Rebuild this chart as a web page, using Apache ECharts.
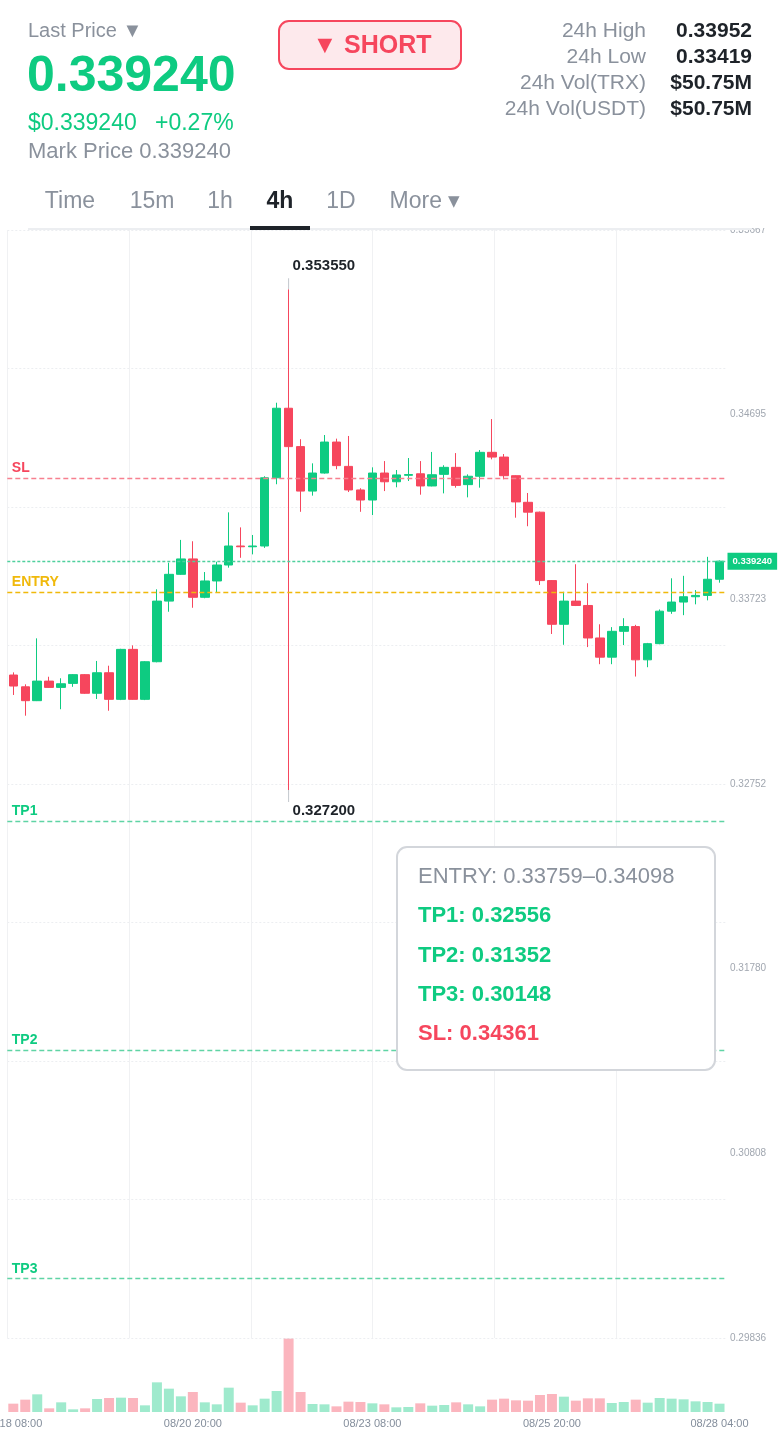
<!DOCTYPE html>
<html>
<head>
<meta charset="utf-8">
<script src="https://cdn.jsdelivr.net/npm/echarts@6/dist/echarts.min.js"></script>
<style>
html,body{margin:0;padding:0;background:#ffffff;}
#chart{width:780px;height:1430px;}
</style>
</head>
<body>
<div id="chart"></div>
<script>
// ---------- DATA ----------
const categories = [
  '08/18 08:00','08/18 12:00','08/18 16:00','08/18 20:00',
  '08/19 00:00','08/19 04:00','08/19 08:00','08/19 12:00','08/19 16:00','08/19 20:00',
  '08/20 00:00','08/20 04:00','08/20 08:00','08/20 12:00','08/20 16:00','08/20 20:00',
  '08/21 00:00','08/21 04:00','08/21 08:00','08/21 12:00','08/21 16:00','08/21 20:00',
  '08/22 00:00','08/22 04:00','08/22 08:00','08/22 12:00','08/22 16:00','08/22 20:00',
  '08/23 00:00','08/23 04:00','08/23 08:00','08/23 12:00','08/23 16:00','08/23 20:00',
  '08/24 00:00','08/24 04:00','08/24 08:00','08/24 12:00','08/24 16:00','08/24 20:00',
  '08/25 00:00','08/25 04:00','08/25 08:00','08/25 12:00','08/25 16:00','08/25 20:00',
  '08/26 00:00','08/26 04:00','08/26 08:00','08/26 12:00','08/26 16:00','08/26 20:00',
  '08/27 00:00','08/27 04:00','08/27 08:00','08/27 12:00','08/27 16:00','08/27 20:00',
  '08/28 00:00','08/28 04:00'
];
const xLabelIndices = [0, 15, 30, 45, 59];

// [open, close, low, high]
const candles = [
  [0.33325,0.33267,0.33220,0.33339],
  [0.33263,0.33190,0.33111,0.33276],
  [0.33190,0.33293,0.33188,0.33518],
  [0.33293,0.33260,0.33258,0.33316],
  [0.33260,0.33279,0.33145,0.33308],
  [0.33281,0.33327,0.33263,0.33330],
  [0.33327,0.33229,0.33226,0.33330],
  [0.33229,0.33337,0.33199,0.33399],
  [0.33337,0.33197,0.33137,0.33374],
  [0.33197,0.33460,0.33193,0.33463],
  [0.33460,0.33197,0.33195,0.33481],
  [0.33197,0.33395,0.33193,0.33398],
  [0.33395,0.33714,0.33392,0.33776],
  [0.33714,0.33855,0.33658,0.33916],
  [0.33855,0.33936,0.33852,0.34036],
  [0.33936,0.33734,0.33679,0.34029],
  [0.33734,0.33820,0.33729,0.33867],
  [0.33820,0.33904,0.33760,0.33921],
  [0.33904,0.34004,0.33890,0.34181],
  [0.34004,0.34000,0.33942,0.34102],
  [0.34000,0.34004,0.33960,0.34062],
  [0.34004,0.34363,0.33994,0.34371],
  [0.34363,0.34729,0.34329,0.34758],
  [0.34729,0.34527,0.32720,0.35355],
  [0.34527,0.34293,0.34184,0.34566],
  [0.34293,0.34388,0.34269,0.34439],
  [0.34388,0.34551,0.34385,0.34588],
  [0.34551,0.34427,0.34408,0.34569],
  [0.34423,0.34299,0.34288,0.34583],
  [0.34299,0.34246,0.34184,0.34308],
  [0.34246,0.34388,0.34167,0.34418],
  [0.34388,0.34342,0.34293,0.34451],
  [0.34342,0.34378,0.34313,0.34404],
  [0.34376,0.34380,0.34346,0.34467],
  [0.34384,0.34320,0.34274,0.34451],
  [0.34320,0.34379,0.34318,0.34499],
  [0.34381,0.34418,0.34281,0.34429],
  [0.34418,0.34323,0.34311,0.34493],
  [0.34327,0.34371,0.34260,0.34381],
  [0.34371,0.34497,0.34311,0.34509],
  [0.34497,0.34472,0.34460,0.34672],
  [0.34472,0.34374,0.34355,0.34488],
  [0.34374,0.34236,0.34153,0.34376],
  [0.34234,0.34182,0.34108,0.34283],
  [0.34182,0.33822,0.33799,0.34185],
  [0.33822,0.33592,0.33541,0.33825],
  [0.33592,0.33714,0.33484,0.33763],
  [0.33714,0.33691,0.33688,0.33908],
  [0.33691,0.33520,0.33472,0.33808],
  [0.33520,0.33419,0.33382,0.33592],
  [0.33419,0.33555,0.33382,0.33577],
  [0.33555,0.33580,0.33483,0.33624],
  [0.33580,0.33405,0.33317,0.33589],
  [0.33405,0.33490,0.33366,0.33494],
  [0.33490,0.33661,0.33487,0.33670],
  [0.33661,0.33709,0.33647,0.33834],
  [0.33709,0.33737,0.33640,0.33847],
  [0.33737,0.33744,0.33697,0.33772],
  [0.33744,0.33829,0.33718,0.33947],
  [0.33829,0.33924,0.33811,0.33928]
];

const volumes = [
  25,37,53,11,29,8,11,39,42,43,
  42,20,89,70,47,60,29,23,73,28,
  20,40,63,220,60,24,23,17,31,30,
  26,23,14,15,26,19,21,29,23,17,
  37,40,35,34,51,54,46,34,41,41,
  27,30,37,28,42,40,38,32,30,25
];
const volMax = 222;

const yMin = 0.29836;
const yMax = 0.35667;

const lastPrice = 0.339240;
const hiPrice = 0.353550;
const loPrice = 0.327200;
const slPrice = 0.34361;
const entryLow = 0.33759;
const entryHigh = 0.34098;
const tp1 = 0.32556;
const tp2 = 0.31352;
const tp3 = 0.30148;
const hiIndex = 23;

const changePct = '+0.27%';
const stats = [
  ['24h High', '0.33952'],
  ['24h Low', '0.33419'],
  ['24h Vol(TRX)', '$50.75M'],
  ['24h Vol(USDT)', '$50.75M']
];
const tabs = ['Time', '15m', '1h', '4h', '1D', 'More \u25BE'];
const activeTab = '4h';

// ---------- STYLE ----------
const UP = '#0ecb81';
const DOWN = '#f6465d';
const YEL = '#f0b90b';
const GRAY = '#8a919c';
const DARK = '#1e2329';
const FONT = "'Liberation Sans', Arial, sans-serif";

const chart = echarts.init(document.getElementById('chart'), null, {renderer: 'canvas'});

function txt(text, x, y, font, fill, align, z) {
  return {
    type: 'text', z: z || 110, silent: true,
    style: {text: text, x: x, y: y, font: font + ' ' + FONT, fill: fill,
            align: align || 'left', verticalAlign: 'middle'}
  };
}

const graphics = [];
graphics.push({type: 'rect', z: 100, silent: true, shape: {x: 0, y: 0, width: 780, height: 228}, style: {fill: '#ffffff'}});
graphics.push({type: 'rect', z: 101, silent: true, shape: {x: 28, y: 228, width: 724, height: 2}, style: {fill: '#eceef1'}});
graphics.push(txt('Last Price \u25BC', 28, 31, '20px', GRAY));
graphics.push(txt(lastPrice.toFixed(6), 27, 77, 'bold 50px', UP));
graphics.push(txt('$' + lastPrice.toFixed(6), 28, 124, '23px', UP));
graphics.push(txt(changePct, 155, 124, '23px', UP));
graphics.push(txt('Mark Price ' + lastPrice.toFixed(6), 28, 152, '22px', GRAY));
graphics.push({type: 'rect', z: 105, silent: true, shape: {x: 279, y: 21, width: 182, height: 48, r: 10},
  style: {fill: '#fde9ec', stroke: DOWN, lineWidth: 2}});
graphics.push(txt('\u25BC SHORT', 372, 46, 'bold 25px', DOWN, 'center'));
stats.forEach(function (s, i) {
  graphics.push(txt(s[0], 646, 31 + i * 26, '21px', GRAY, 'right'));
  graphics.push(txt(s[1], 752, 31 + i * 26, 'bold 21px', DARK, 'right'));
});
const tabX = [70, 152, 220, 280, 341, 425];
tabs.forEach(function (t, i) {
  const active = t === activeTab;
  graphics.push(txt(t, tabX[i], 202, (active ? 'bold ' : '') + '23px', active ? DARK : GRAY, 'center'));
});
graphics.push({type: 'rect', z: 102, silent: true, shape: {x: 250, y: 226, width: 60, height: 4}, style: {fill: DARK}});

graphics.push({type: 'rect', z: 120, silent: true, shape: {x: 397, y: 847, width: 318, height: 223, r: 10},
  style: {fill: '#ffffff', stroke: '#d3d6db', lineWidth: 2}});
graphics.push(txt('ENTRY: ' + entryLow.toFixed(5) + '\u2013' + entryHigh.toFixed(5), 418, 877, '22px', GRAY, 'left', 121));
graphics.push(txt('TP1: ' + tp1.toFixed(5), 418, 916, 'bold 22px', UP, 'left', 121));
graphics.push(txt('TP2: ' + tp2.toFixed(5), 418, 956, 'bold 22px', UP, 'left', 121));
graphics.push(txt('TP3: ' + tp3.toFixed(5), 418, 995, 'bold 22px', UP, 'left', 121));
graphics.push(txt('SL: ' + slPrice.toFixed(5), 418, 1034, 'bold 22px', DOWN, 'left', 121));

function levelLine(value, name, lineColor, labelColor, dash) {
  return {
    yAxis: value,
    lineStyle: {color: lineColor, type: dash, width: 1.3},
    label: {show: true, position: 'insideStartTop', formatter: name, color: labelColor,
            fontWeight: 'bold', fontSize: 14, fontFamily: FONT, distance: [4.5, 3]}
  };
}

const option = {
  animation: false,
  backgroundColor: '#ffffff',
  textStyle: {fontFamily: FONT},
  grid: [
    {left: 7.3, right: 54.5, top: 230, height: 1108, outerBoundsMode: 'none', containLabel: false},
    {left: 7.3, right: 54.5, top: 1338, height: 74, outerBoundsMode: 'none', containLabel: false}
  ],
  xAxis: [
    {type: 'category', gridIndex: 0, data: categories, boundaryGap: true,
     axisLine: {show: false}, axisTick: {show: false}, axisLabel: {show: false}, splitLine: {show: false}},
    {type: 'category', gridIndex: 1, data: categories, boundaryGap: true,
     axisLine: {show: false}, axisTick: {show: false}, splitLine: {show: false},
     axisLabel: {show: true, color: '#848e9c', fontSize: 11, fontFamily: FONT, margin: 6,
                 alignMinLabel: 'center', alignMaxLabel: 'center', hideOverlap: false,
                 interval: function (i) { return xLabelIndices.indexOf(i) >= 0; }}},
    {type: 'value', gridIndex: 0, min: -0.5, max: 59.5, interval: 10.17, position: 'top',
     axisLine: {show: false}, axisTick: {show: false}, axisLabel: {show: false},
     splitLine: {show: true, showMaxLine: false, lineStyle: {color: '#f0f1f3', width: 1}}}
  ],
  yAxis: [
    {type: 'value', gridIndex: 0, min: yMin, max: yMax, interval: (yMax - yMin) / 6, position: 'right',
     axisLine: {show: false}, axisTick: {show: false}, splitLine: {show: false},
     axisLabel: {show: true, color: '#a1a7b0', fontSize: 10, fontFamily: FONT, margin: 4.5,
                 showMinLabel: true, showMaxLabel: true,
                 formatter: function (v) { return v.toFixed(5); }}},
    {type: 'value', gridIndex: 0, min: yMin, max: yMax, interval: (yMax - yMin) / 8, position: 'left',
     axisLine: {show: false}, axisTick: {show: false}, axisLabel: {show: false},
     splitLine: {show: true, lineStyle: {color: '#eceef1', type: [2, 2], width: 1}}},
    {type: 'value', gridIndex: 1, min: 0, max: volMax, show: false, splitLine: {show: false}}
  ],
  series: [
    {
      type: 'candlestick', name: 'price', xAxisIndex: 0, yAxisIndex: 0,
      data: candles, barWidth: 9,
      itemStyle: {color: UP, color0: DOWN, borderColor: UP, borderColor0: DOWN, borderWidth: 1},
      markLine: {
        silent: true, symbol: 'none', animation: false, precision: 6,
        data: [
          levelLine(slPrice, 'SL', '#f7808f', DOWN, [5, 3]),
          levelLine(entryLow, 'ENTRY', YEL, YEL, [5, 3]),
          levelLine(tp1, 'TP1', '#5fd4a5', UP, [5, 3]),
          levelLine(tp2, 'TP2', '#5fd4a5', UP, [5, 3]),
          levelLine(tp3, 'TP3', '#5fd4a5', UP, [5, 3]),
          {yAxis: lastPrice,
           lineStyle: {color: '#4fd09d', type: [3, 2], width: 1.3},
           label: {show: true, position: 'end', distance: 2, formatter: lastPrice.toFixed(6),
                   color: '#ffffff', backgroundColor: UP, fontWeight: 'bold', fontSize: 9.5,
                   fontFamily: FONT, padding: [4, 5, 3, 5]}}
        ]
      },
      markPoint: {
        silent: true, animation: false,
        data: [
          {coord: [hiIndex, hiPrice], symbol: 'rect', symbolSize: [1, 11], symbolOffset: [0, '-50%'],
           itemStyle: {color: '#c3c7cd'},
           label: {show: true, position: [4.5, -20], formatter: hiPrice.toFixed(6),
                   color: DARK, fontWeight: 'bold', fontSize: 15, fontFamily: FONT}},
          {coord: [hiIndex, loPrice], symbol: 'rect', symbolSize: [1, 12], symbolOffset: [0, '50%'],
           itemStyle: {color: '#c3c7cd'},
           label: {show: true, position: [4.5, 13], formatter: loPrice.toFixed(6),
                   color: DARK, fontWeight: 'bold', fontSize: 15, fontFamily: FONT}}
        ]
      }
    },
    {
      type: 'bar', name: 'volume', xAxisIndex: 1, yAxisIndex: 2, barWidth: 10,
      data: volumes.map(function (v, i) {
        const up = candles[i][1] >= candles[i][0];
        return {value: v, itemStyle: {color: up ? 'rgba(14,203,129,0.4)' : 'rgba(246,70,93,0.4)'}};
      })
    }
  ],
  graphic: graphics
};

chart.setOption(option);
</script>
</body>
</html>
